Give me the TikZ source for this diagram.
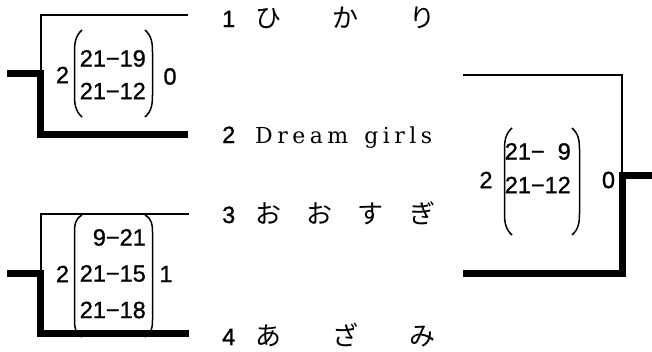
\documentclass[tikz,border=0pt]{standalone}
\usepackage{fontspec}
\newfontfamily\numfont[FakeBold=1]{Liberation Sans}
\newfontfamily\serfont{DejaVu Serif}
\newfontfamily\jpfont{Noto Sans CJK JP}
\begin{document}
\begin{tikzpicture}[x=1pt,y=-1pt,
  thinline/.style={line width=2pt,line join=miter},
  thickline/.style={line width=7pt,line join=miter},
  paren/.style={line width=1.5pt},
  score/.style={inner sep=0pt,font=\numfont\fontsize{23.5}{28}\selectfont},
  namenum/.style={inner sep=0pt,anchor=base west,font=\numfont\fontsize{23.5}{28}\selectfont},
  jname/.style={inner sep=0pt,anchor=base west,font=\jpfont\fontsize{26}{30}\selectfont},
  lname/.style={inner sep=0pt,anchor=base west,font=\serfont\fontsize{22}{28}\selectfont}]
\useasboundingbox (0,0) rectangle (652,351);
% ---- coordinates of the bracket lines
\coordinate (a1) at (188,15);   \coordinate (a2) at (188,134);
\coordinate (ac) at (40.5,15);  \coordinate (am) at (40.5,73.5);
\coordinate (ab) at (40.5,134); \coordinate (as) at (7,73.5);
\coordinate (b1) at (189,214);  \coordinate (b2) at (189,333);
\coordinate (bc) at (40.5,214); \coordinate (bm) at (40.5,273.5);
\coordinate (bb) at (40.5,333); \coordinate (bs) at (7,273.5);
\coordinate (c1) at (463,74.5); \coordinate (c2) at (463,273.5);
\coordinate (cc) at (622,74.5); \coordinate (cm) at (622,175);
\coordinate (cb) at (622,273.5);\coordinate (cs) at (654,175);
% ---- brackets
\draw[thinline] (a1) -- (ac) -- (am);
\draw[thickline] (as) -- (am) -- (ab) -- (a2);
\draw[thinline] (b1) -- (bc) -- (bm);
\draw[thickline] (bs) -- (bm) -- (bb) -- (b2);
\draw[thinline] (c1) -- (cc) -- (cm);
\draw[thickline] (cs) -- (cm) -- (cb) -- (c2);
% ---- names
\node[namenum] (n1) at (222,27) {1};
\node[jname] (j1) at (255,27) {\makebox[180pt][s]{ひ\hfill か\hfill り}};
\node[namenum] (n2) at (222,143) {2};
\node[lname] (j2) at (255,143) {\makebox[177pt][s]{D\hfill r\hfill e\hfill a\hfill m\hfill\ \hfill g\hfill i\hfill r\hfill l\hfill s}};
\node[namenum] (n3) at (222,223) {3};
\node[jname] (j3) at (255,223) {\makebox[180pt][s]{お\hfill お\hfill す\hfill ぎ}};
\node[namenum] (n4) at (222,345) {4};
\node[jname] (j4) at (255,345) {\makebox[180pt][s]{あ\hfill ざ\hfill み}};
% ---- score top-left
\node[score] (s1l) at (62.5,75) {2};
\node[score] (s1r) at (170,76.5) {0};
\node[score,anchor=east] (s1a) at (146,58.5) {21−19};
\node[score,anchor=east] (s1b) at (146,91) {21−12};
\draw[paren] (82,30) .. controls (75,36) and (74.5,44) .. (74.5,52) -- (74.5,95) .. controls (74.5,103) and (75,111) .. (82,117);
\draw[paren] (145,30) .. controls (152,36) and (152.5,44) .. (152.5,52) -- (152.5,95) .. controls (152.5,103) and (152,111) .. (145,117);
% ---- score bottom-left
\node[score] (s2l) at (62.5,274) {2};
\node[score] (s2r) at (166,274) {1};
\node[score,anchor=east] (s2a) at (146,237.5) {9−21};
\node[score,anchor=east] (s2b) at (146,273.5) {21−15};
\node[score,anchor=east] (s2c) at (146,310) {21−18};
\draw[paren] (82,215) .. controls (75,219) and (74.5,225) .. (74.5,232) -- (74.5,320) .. controls (74.5,327) and (75,333) .. (82,337);
\draw[paren] (145,215) .. controls (152,219) and (152.5,225) .. (152.5,232) -- (152.5,320) .. controls (152.5,327) and (152,333) .. (145,337);
% ---- score right
\node[score] (s3l) at (486,180) {2};
\node[score] (s3r) at (608.5,180) {0};
\node[score,anchor=east] (s3a) at (571,151.5) {21−\hphantom{1}9};
\node[score,anchor=east] (s3b) at (571,185) {21−12};
\draw[paren] (512,128) .. controls (505,134) and (504.5,142) .. (504.5,150) -- (504.5,213) .. controls (504.5,221) and (505,229) .. (512,235);
\draw[paren] (572,128) .. controls (579,134) and (579.5,142) .. (579.5,150) -- (579.5,213) .. controls (579.5,221) and (579,229) .. (572,235);
\end{tikzpicture}
\end{document}
